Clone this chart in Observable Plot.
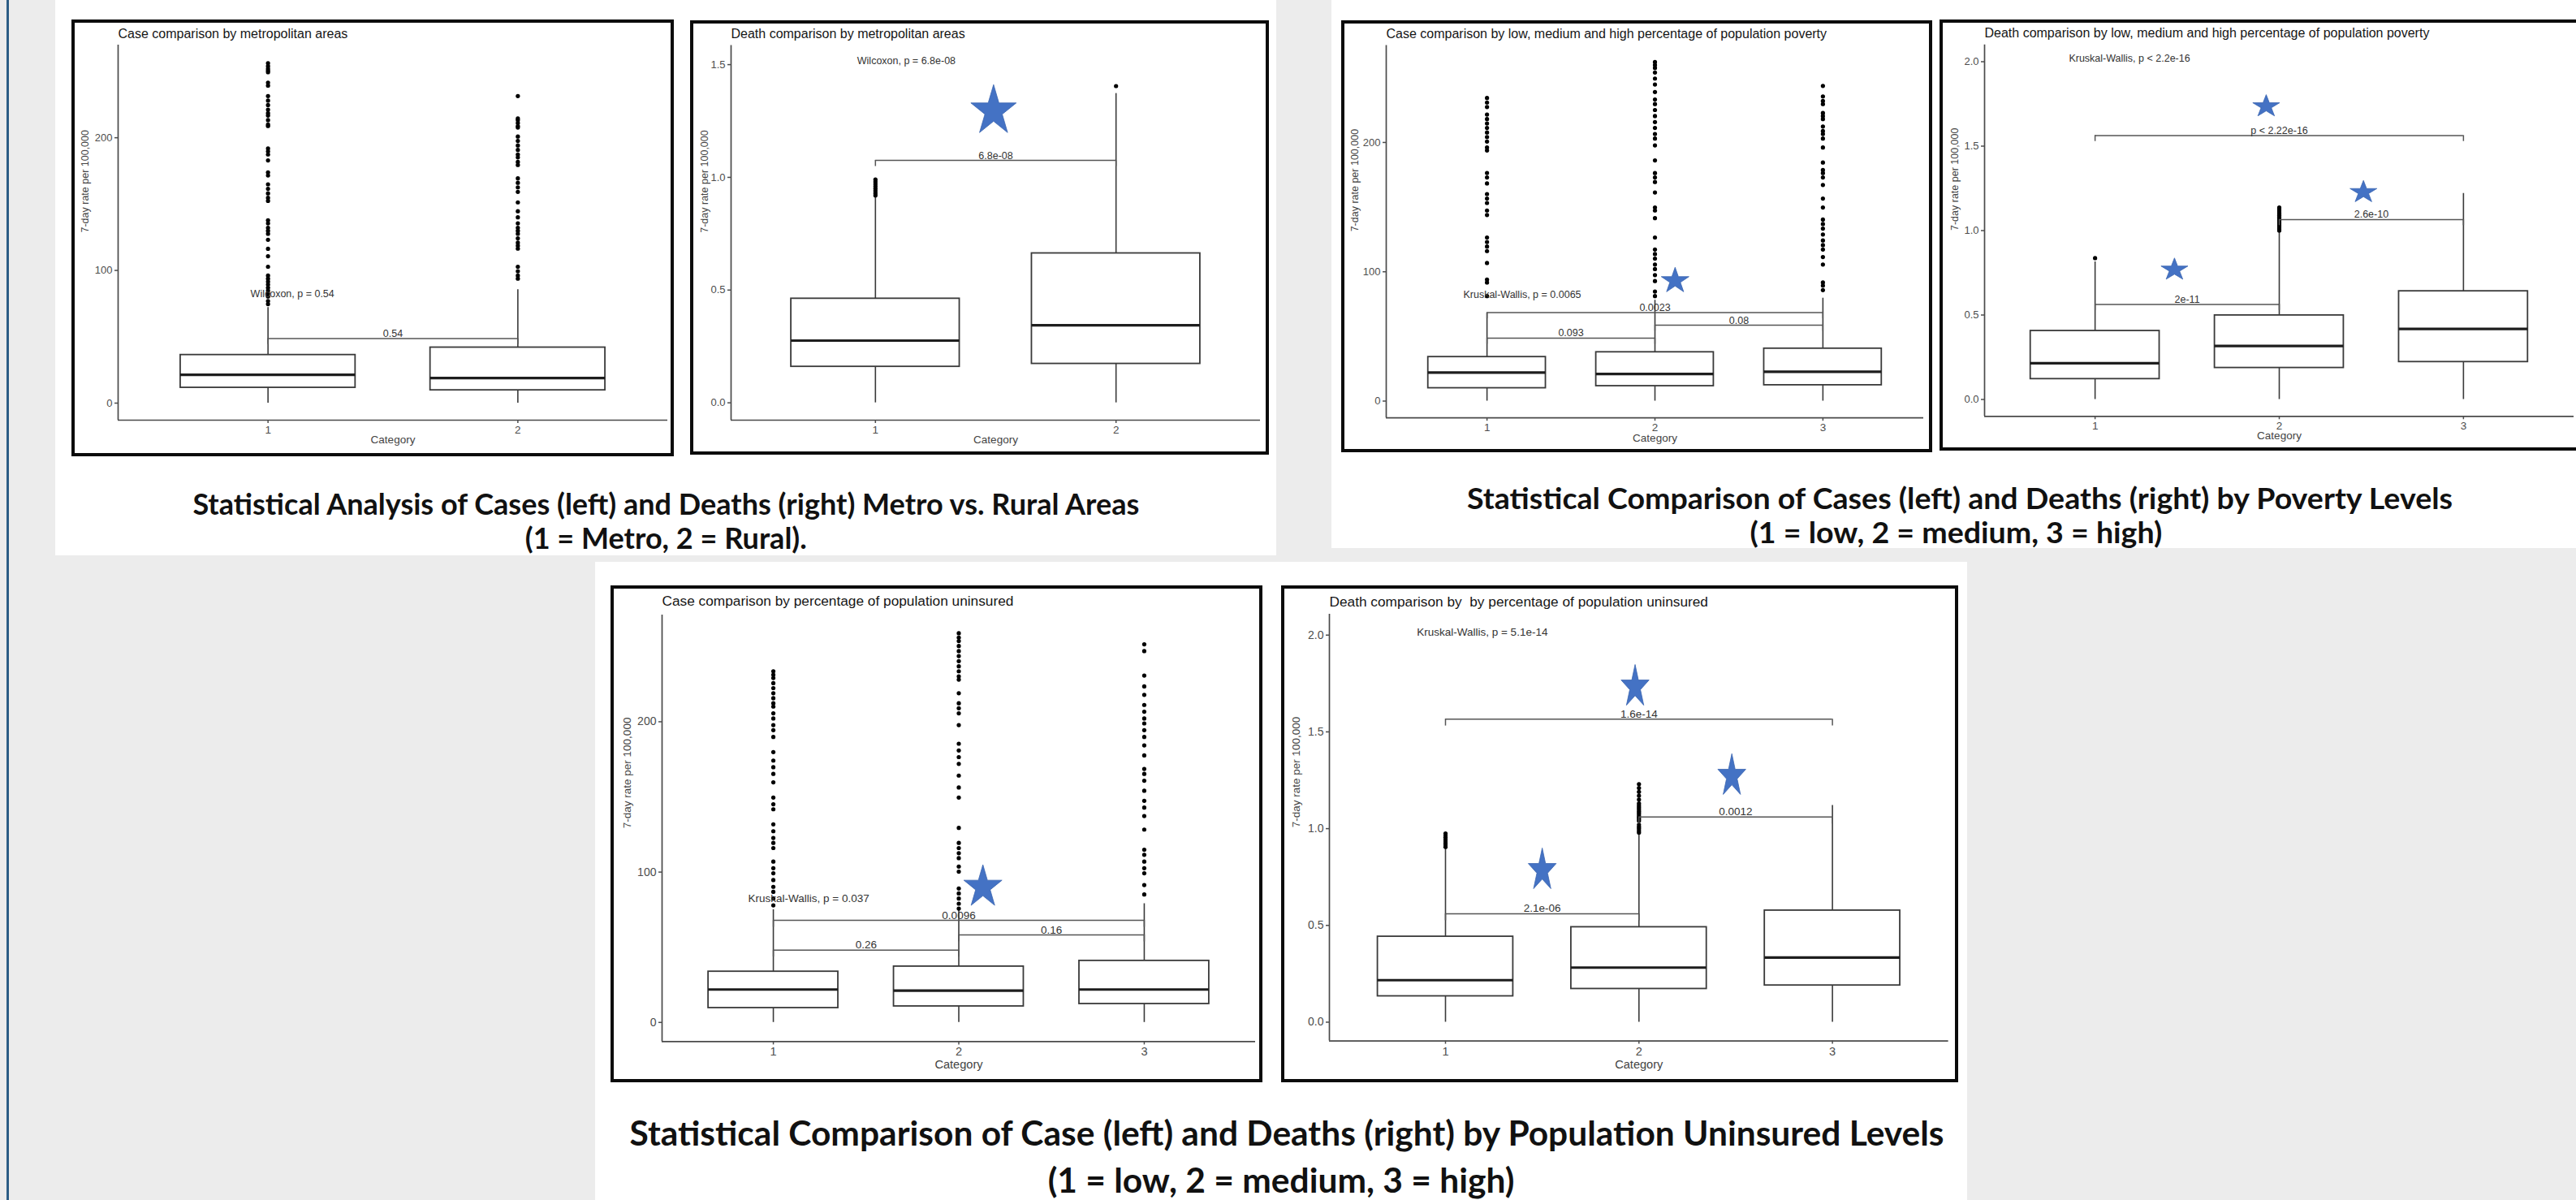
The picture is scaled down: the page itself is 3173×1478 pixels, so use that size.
<!DOCTYPE html>
<html>
<head>
<meta charset="utf-8">
<script src="https://cdn.jsdelivr.net/npm/d3@7"></script>
<script src="https://cdn.jsdelivr.net/npm/@observablehq/plot@0.6"></script>
<style>
html, body { margin: 0; padding: 0; }
body { width: 3173px; height: 1478px; background: #ececec; position: relative; overflow: hidden;
  font-family: "Liberation Sans", Arial, sans-serif; }
.abs { position: absolute; }
.white { position: absolute; background: #ffffff; }
.frame { position: absolute; border: 4px solid #0b0b0b; box-sizing: border-box; pointer-events: none; }
.plot { position: absolute; }
.cap { position: absolute; font-family: Lato, "Open Sans", sans-serif; font-weight: 700; color: #111;
  white-space: nowrap; transform-origin: 50% 50%; }
</style>
</head>
<body>
<div class="abs" style="left:8px;top:0;width:3px;height:1478px;background:#2c5d86"></div>
<div class="white" style="left:68px;top:0;width:1504px;height:684px"></div>
<div class="white" style="left:1640px;top:0;width:1533px;height:675px"></div>
<div class="white" style="left:733px;top:692px;width:1690px;height:786px"></div>
<script>
// ---------------- DATA ----------------
const catTicks2 = [1, 2];
const catTicks3 = [1, 2, 3];
const yLabelText = "7-day rate per 100,000";
const xLabelText = "Category";

// Panel 1: cases, metropolitan areas
const metroCaseTitle = "Case comparison by metropolitan areas";
const metroCaseBox = [
  {cat: 1, lo: 0, q1: 11.6, med: 21.3, q3: 36.3, hi: 72},
  {cat: 2, lo: 0, q1: 9.7, med: 18.9, q3: 41.9, hi: 85.5}
];
const metroCaseOut1 = [256.2, 254, 252, 250.5, 249.4, 241.5, 239.3, 231.4, 228, 224.6, 221.2, 218.5, 216.7, 213.3, 209.9, 208.8, 191.9, 189.7, 187.4, 182.9, 173.9, 171.6, 164.9, 161.5, 158.1, 154.7, 152.4, 137.8, 135.5, 132.1, 129.9, 127.6, 123.1, 116.3, 110.7, 102.8, 96.1, 93.8, 91.5, 89.3, 87, 84.8, 82.5, 80.3, 76.9, 74.6];
const metroCaseOut2 = [231.4, 214.5, 213.3, 211.1, 208.8, 207.7, 200.9, 197.6, 194.2, 190.8, 187.4, 185.2, 181.8, 179.5, 169.4, 166, 162.6, 159.2, 151.3, 144.6, 140, 135.5, 132.1, 129.9, 127.6, 124.2, 120.9, 118.6, 116.4, 102.8, 99.4, 96.1, 93.8];
const metroCaseBrackets = [{from: 1, to: 2, y: 48.7, label: "0.54"}];
const metroCaseTest = [{x: 0.93, y: 82.5, text: "Wilcoxon, p = 0.54"}];
const metroCaseStars = [];

// Panel 2: deaths, metropolitan areas
const metroDeathTitle = "Death comparison by metropolitan areas";
const metroDeathBox = [
  {cat: 1, lo: 0, q1: 0.16, med: 0.276, q3: 0.462, hi: 0.915},
  {cat: 2, lo: 0, q1: 0.173, med: 0.344, q3: 0.663, hi: 1.372}
];
const metroDeathOut1 = [0.92, 0.93, 0.94, 0.95, 0.96, 0.97, 0.98, 0.99];
const metroDeathOut2 = [1.405];
const metroDeathBrackets = [{from: 1, to: 2, y: 1.075, label: "6.8e-08"}];
const metroDeathTest = [{x: 0.924, y: 1.518, text: "Wilcoxon, p = 6.8e-08"}];
const metroDeathStars = [{x: 1.491, y: 1.305}];

// Panel 3: cases, poverty
const povCaseTitle = "Case comparison by low, medium and high percentage of population poverty";
const povCaseBox = [
  {cat: 1, lo: 0, q1: 10.0, med: 22.0, q3: 34.1, hi: 68},
  {cat: 2, lo: 0, q1: 11.6, med: 20.9, q3: 37.8, hi: 78},
  {cat: 3, lo: 0, q1: 12.3, med: 22.7, q3: 40.6, hi: 79.6}
];
const povCaseOut1 = [234.4, 230.9, 227.4, 221.6, 218.1, 214.7, 211.2, 207.7, 204.2, 200.7, 196.1, 193.8, 176.4, 172.9, 168.3, 160.1, 156.6, 153.2, 147.4, 143.9, 126.5, 123, 119.5, 116, 106.8, 94, 91.7, 81.2];
const povCaseOut2 = [262.2, 259.9, 257.6, 254.1, 249.4, 244.8, 239, 233.2, 229.7, 225.1, 220.4, 215.8, 211.2, 206.5, 203, 197.7, 186.1, 176.3, 172.9, 169.4, 161.3, 149.7, 147.4, 141.5, 126.5, 117.2, 113.7, 110.2, 105.6, 102.1, 97.4, 92.8, 84.7, 81.2];
const povCaseOut3 = [243.7, 235.6, 232.1, 229.7, 222.8, 220.4, 218.1, 212.3, 208.8, 206.5, 203, 196.1, 184.5, 178.7, 176.3, 172.9, 167.1, 156.6, 149.7, 140.4, 136.9, 133.4, 128.8, 124.2, 120.6, 117.2, 111.4, 105.6, 91.7, 89.3, 85.8];
const povCaseBrackets = [
  {from: 1, to: 2, y: 48.7, label: "0.093"},
  {from: 2, to: 3, y: 58.7, label: "0.08"},
  {from: 1, to: 3, y: 68.4, label: "0.0023"}
];
const povCaseTest = [{x: 0.859, y: 82.4, text: "Kruskal-Wallis, p = 0.0065"}];
const povCaseStars = [{x: 2.12, y: 94}];

// Panel 4: deaths, poverty
const povDeathTitle = "Death comparison by low, medium and high percentage of population poverty";
const povDeathBox = [
  {cat: 1, lo: 0, q1: 0.121, med: 0.215, q3: 0.406, hi: 0.815},
  {cat: 2, lo: 0, q1: 0.187, med: 0.317, q3: 0.498, hi: 0.99},
  {cat: 3, lo: 0, q1: 0.222, med: 0.418, q3: 0.641, hi: 1.22}
];
const povDeathOut1 = [0.837];
const povDeathOut2 = [1.0, 1.01, 1.02, 1.03, 1.04, 1.05, 1.06, 1.07, 1.08, 1.09, 1.1, 1.11, 1.12, 1.13, 1.136];
const povDeathOut3 = [];
const povDeathBrackets = [
  {from: 1, to: 2, y: 0.563, label: "2e-11"},
  {from: 2, to: 3, y: 1.065, label: "2.6e-10"},
  {from: 1, to: 3, y: 1.563, label: "p < 2.22e-16"}
];
const povDeathTest = [{x: 0.858, y: 2.018, text: "Kruskal-Wallis, p < 2.2e-16"}];
const povDeathStars = [{x: 1.929, y: 1.742}, {x: 2.457, y: 1.234}, {x: 1.431, y: 0.775}];

// Panel 5: cases, uninsured
const unCaseTitle = "Case comparison by percentage of population uninsured";
const unCaseBox = [
  {cat: 1, lo: 0, q1: 9.6, med: 21.9, q3: 33.8, hi: 75},
  {cat: 2, lo: 0, q1: 10.7, med: 21.2, q3: 37.2, hi: 75},
  {cat: 3, lo: 0, q1: 12.3, med: 21.9, q3: 41, hi: 79}
];
const unCaseOut1 = [233.6, 231.3, 229.1, 225.7, 222.4, 219, 215.7, 212.3, 210.1, 205.6, 202.2, 197.8, 194.4, 189.9, 179.8, 174.2, 169.8, 165.3, 159.7, 149.6, 145.1, 141.8, 131.7, 127.2, 122.7, 119.4, 116, 107, 102.6, 99.2, 94.7, 90.2, 86.9, 82.4, 77.9];
const unCaseOut2 = [258.9, 256, 253.7, 250.4, 247, 243.7, 240.3, 236.9, 233.6, 230.2, 228, 219, 212.3, 209, 205.6, 197.8, 185.4, 180.9, 176.5, 172, 164.2, 156.3, 149.6, 129.4, 119.4, 116, 112.6, 109.3, 103.7, 100.3, 89.1, 85.8, 82.4, 79, 75.7];
const unCaseOut3 = [251.5, 247, 230.7, 223.5, 217.9, 211.2, 206.7, 202.2, 198.9, 194.4, 189.9, 184.3, 177.6, 168.6, 165.3, 160.8, 154.1, 147.4, 142.9, 137.3, 128.3, 114.9, 111.5, 107, 102.6, 99.2, 91.4, 85.1];
const unCaseBrackets = [
  {from: 1, to: 2, y: 48.1, label: "0.26"},
  {from: 2, to: 3, y: 58.2, label: "0.16"},
  {from: 1, to: 3, y: 67.9, label: "0.0096"}
];
const unCaseTest = [{x: 0.864, y: 82.4, text: "Kruskal-Wallis, p = 0.037"}];
const unCaseStars = [{x: 2.13, y: 91.4}];

// Panel 6: deaths, uninsured
const unDeathTitle = "Death comparison by  by percentage of population uninsured";
const unDeathBox = [
  {cat: 1, lo: 0, q1: 0.134, med: 0.217, q3: 0.442, hi: 0.9},
  {cat: 2, lo: 0, q1: 0.172, med: 0.282, q3: 0.491, hi: 0.97},
  {cat: 3, lo: 0, q1: 0.19, med: 0.334, q3: 0.577, hi: 1.12}
];
const unDeathOut1 = [0.905, 0.915, 0.925, 0.935, 0.945, 0.955, 0.965, 0.975];
const unDeathOut2 = [0.98, 0.99, 1.0, 1.01, 1.02, 1.04, 1.05, 1.06, 1.07, 1.08, 1.09, 1.1, 1.11, 1.12, 1.13, 1.15, 1.17, 1.19, 1.21, 1.23];
const unDeathOut3 = [];
const unDeathBrackets = [
  {from: 1, to: 2, y: 0.56, label: "2.1e-06"},
  {from: 2, to: 3, y: 1.06, label: "0.0012"},
  {from: 1, to: 3, y: 1.566, label: "1.6e-14"}
];
const unDeathTest = [{x: 0.852, y: 2.016, text: "Kruskal-Wallis, p = 5.1e-14"}];
const unDeathStars = [{x: 1.98, y: 1.743}, {x: 2.48, y: 1.282}, {x: 1.50, y: 0.795}];

const caseTicks = [0, 100, 200];
const deathTicks3 = [0, 0.5, 1.0, 1.5];
const deathTicks4 = [0, 0.5, 1.0, 1.5, 2.0];

const captions = [
  ["Statistical Analysis of Cases (left) and Deaths (right) Metro vs. Rural Areas", "(1 = Metro, 2 = Rural)."],
  ["Statistical Comparison of Cases (left) and Deaths (right) by Poverty Levels", "(1 = low, 2 = medium, 3 = high)"],
  ["Statistical Comparison of Case (left) and Deaths (right) by Population Uninsured Levels", "(1 = low, 2 = medium, 3 = high)"]
];

// ---------------- RENDERING ----------------
function stretchedStar(ys) {
  return {
    draw(context, size) {
      const R = Math.sqrt(size / Math.PI);
      const ri = R * 0.381966;
      const off = 0.0955 * R * ys;
      for (let i = 0; i < 10; i++) {
        const rad = i % 2 ? ri : R;
        const a = -Math.PI / 2 + i * Math.PI / 5;
        const x = rad * Math.cos(a), y = rad * Math.sin(a) * ys + off;
        if (i === 0) context.moveTo(x, y); else context.lineTo(x, y);
      }
      context.closePath();
    }
  };
}

const ink = "#3a3a3a";
function drawPanel(p) {
  const n = p.box.length;
  const xDomain = [0.4, n + 0.6];
  const span = p.yDomain[1] - p.yDomain[0];
  const tip = span * 0.016;
  const hw = 0.35;
  const fs = p.fs;
  const outRows = p.out.flatMap((vals, i) => vals.map(v => ({cat: p.box[i].cat, v})));
  const tipRows = p.br.flatMap(b => [{x: b.from, y: b.y}, {x: b.to, y: b.y}]);
  const chart = Plot.plot({
    width: p.w, height: p.h,
    marginLeft: p.ml, marginTop: p.mt, marginRight: p.mr, marginBottom: p.mb,
    x: {domain: xDomain},
    y: {domain: p.yDomain},
    style: {fontFamily: "'Liberation Sans', Arial, sans-serif", background: "transparent", overflow: "visible", color: "#222"},
    marks: [
      Plot.ruleX([xDomain[0]], {stroke: "#4a4a4a", strokeWidth: 1.7}),
      Plot.ruleY([p.yDomain[0]], {stroke: "#4a4a4a", strokeWidth: 1.7}),
      Plot.axisY({ticks: p.yTicks, tickFormat: p.yFmt, tickSize: 4, tickPadding: 3, fontSize: 13 * fs, color: "#4d4d4d", strokeWidth: 1.5, label: null}),
      Plot.axisX({ticks: p.xTicks, tickFormat: d3.format("d"), tickSize: 4, tickPadding: 3 * fs, fontSize: 13.5 * fs, color: "#4d4d4d", strokeWidth: 1.5, label: null}),
      Plot.ruleX(p.box, {x: "cat", y1: "lo", y2: "q1", stroke: ink, strokeWidth: 1.6}),
      Plot.ruleX(p.box, {x: "cat", y1: "q3", y2: "hi", stroke: ink, strokeWidth: 1.6}),
      Plot.rect(p.box, {x1: d => d.cat - hw, x2: d => d.cat + hw, y1: "q1", y2: "q3", fill: "#fff", stroke: ink, strokeWidth: 1.8}),
      Plot.ruleY(p.box, {y: "med", x1: d => d.cat - hw, x2: d => d.cat + hw, stroke: "#1e1e1e", strokeWidth: 3.2}),
      Plot.dot(outRows, {x: "cat", y: "v", r: 2.6, fill: "#000", stroke: null}),
      Plot.ruleY(p.br, {y: "y", x1: "from", x2: "to", stroke: "#555", strokeWidth: 1.5}),
      Plot.ruleX(tipRows, {x: "x", y1: d => d.y - tip, y2: "y", stroke: "#555", strokeWidth: 1.5}),
      Plot.text(p.br, {x: d => (d.from + d.to) / 2, y: "y", text: "label", lineAnchor: "bottom", dy: -2, fontSize: 12.5 * fs, fill: "#333"}),
      Plot.text(p.test, {x: "x", y: "y", text: "text", textAnchor: "start", fontSize: 12.5 * fs, fill: "#333"}),
      Plot.dot(p.stars, {x: "x", y: "y", r: p.starR, symbol: stretchedStar(p.starYs), fill: "#4472c4", stroke: "#3a64b0", strokeWidth: 0.8}),
      Plot.text([p.title], {frameAnchor: "top-left", text: d => d, textAnchor: "start", lineAnchor: "middle", dy: -p.titleDy, fontSize: 16 * fs, fill: "#161616"}),
      Plot.text([yLabelText], {frameAnchor: "left", text: d => d, rotate: -90, dx: -p.ylab, fontSize: 12.5 * fs, fill: "#444"}),
      Plot.text([xLabelText], {frameAnchor: "bottom", text: d => d, dy: p.xlab, fontSize: 13.5 * fs, fill: "#444"})
    ]
  });
  chart.classList.add("plot");
  chart.style.left = p.left + "px";
  chart.style.top = p.top + "px";
  document.body.appendChild(chart);
  const fr = document.createElement("div");
  fr.className = "frame";
  fr.style.left = p.left + "px";
  fr.style.top = p.top + "px";
  fr.style.width = p.w + "px";
  fr.style.height = p.h + "px";
  document.body.appendChild(fr);
}

const fmt1 = d3.format(".1f");
const fmt0 = d3.format("d");

const panels = [
  {title: metroCaseTitle, box: metroCaseBox, out: [metroCaseOut1, metroCaseOut2], br: metroCaseBrackets, test: metroCaseTest, stars: metroCaseStars,
   yDomain: [-12.85, 269.85], yTicks: caseTicks, yFmt: fmt0, xTicks: catTicks2,
   left: 88, top: 24, w: 742, h: 538, ml: 57, mt: 31, mr: 8, mb: 45, fs: 1, titleDy: 13.6, ylab: 40.4, xlab: 28.6, starR: 20, starYs: 1},
  {title: metroDeathTitle, box: metroDeathBox, out: [metroDeathOut1, metroDeathOut2], br: metroDeathBrackets, test: metroDeathTest, stars: metroDeathStars,
   yDomain: [-0.077, 1.585], yTicks: deathTicks3, yFmt: fmt1, xTicks: catTicks2,
   left: 850, top: 25, w: 713, h: 535, ml: 50, mt: 30.5, mr: 11, mb: 43, fs: 1, titleDy: 14, ylab: 33, xlab: 28.6, starR: 29.4, starYs: 1.11},
  {title: povCaseTitle, box: povCaseBox, out: [povCaseOut1, povCaseOut2, povCaseOut3], br: povCaseBrackets, test: povCaseTest, stars: povCaseStars,
   yDomain: [-13.0, 275], yTicks: caseTicks, yFmt: fmt0, xTicks: catTicks3,
   left: 1652, top: 25, w: 728, h: 532, ml: 55, mt: 30.5, mr: 11, mb: 42.8, fs: 1, titleDy: 14, ylab: 38.5, xlab: 28.8, starR: 17.9, starYs: 0.93},
  {title: povDeathTitle, box: povDeathBox, out: [povDeathOut1, povDeathOut2, povDeathOut3], br: povDeathBrackets, test: povDeathTest, stars: povDeathStars,
   yDomain: [-0.1, 2.1], yTicks: deathTicks4, yFmt: fmt1, xTicks: catTicks3,
   left: 2389, top: 24, w: 792, h: 531, ml: 55, mt: 30.7, mr: 11, mb: 42.7, fs: 1, titleDy: 14.7, ylab: 37, xlab: 27.8, starR: 17.4, starYs: 0.83},
  {title: unCaseTitle, box: unCaseBox, out: [unCaseOut1, unCaseOut2, unCaseOut3], br: unCaseBrackets, test: unCaseTest, stars: unCaseStars,
   yDomain: [-12.75, 271], yTicks: caseTicks, yFmt: fmt0, xTicks: catTicks3,
   left: 752, top: 721, w: 803, h: 612, ml: 63, mt: 36, mr: 9, mb: 50.6, fs: 1.08, titleDy: 16.6, ylab: 42.7, xlab: 33.2, starR: 24.7, starYs: 1.12},
  {title: unDeathTitle, box: unDeathBox, out: [unDeathOut1, unDeathOut2, unDeathOut3], br: unDeathBrackets, test: unDeathTest, stars: unDeathStars,
   yDomain: [-0.097, 2.108], yTicks: deathTicks4, yFmt: fmt1, xTicks: catTicks3,
   left: 1578, top: 721, w: 834, h: 612, ml: 59, mt: 35, mr: 12.4, mb: 51.4, fs: 1.08, titleDy: 15.4, ylab: 41, xlab: 34, starR: 18.1, starYs: 1.53}
];
panels.forEach(drawPanel);

// Captions: centre x, centre y of each line, font size, target width of the first line
// (the second line uses the same horizontal scale as the first)
const capLayout = [
  {cx: [820, 820], ys: [620, 662], size: 36, width: 1166},
  {cx: [2414, 2409], ys: [613, 655], size: 36, width: 1214},
  {cx: [1585, 1578], ys: [1395, 1453], size: 42, width: 1619}
];
captions.forEach((lines, i) => {
  const L = capLayout[i];
  let scale = 1;
  lines.forEach((t, j) => {
    const el = document.createElement("div");
    el.className = "cap";
    el.textContent = t;
    el.style.fontSize = L.size + "px";
    el.style.lineHeight = "1";
    document.body.appendChild(el);
    const r = el.getBoundingClientRect();
    if (j === 0) scale = L.width / r.width;
    el.style.left = (L.cx[j] - r.width / 2) + "px";
    el.style.top = (L.ys[j] - r.height / 2) + "px";
    el.style.transform = "scaleX(" + scale + ")";
  });
});
</script>
</body>
</html>
